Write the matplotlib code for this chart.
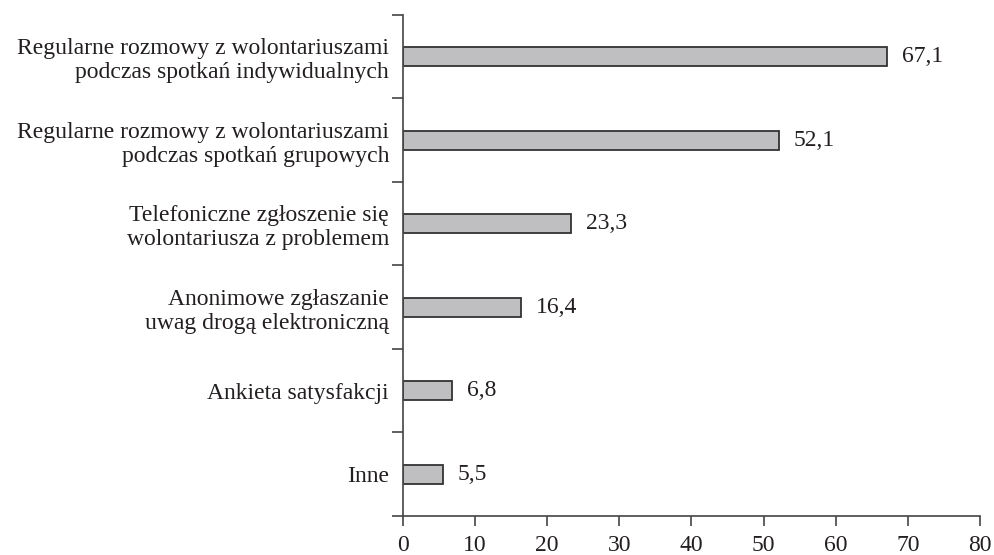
import numpy as np
import matplotlib
matplotlib.use("Agg")
import matplotlib.pyplot as plt

categories = [
    "Regularne rozmowy z wolontariuszami\npodczas spotkań indywidualnych",
    "Regularne rozmowy z wolontariuszami\npodczas spotkań grupowych",
    "Telefoniczne zgłoszenie się\nwolontariusza z problemem",
    "Anonimowe zgłaszanie\nuwag drogą elektroniczną",
    "Ankieta satysfakcji",
    "Inne",
]
values = [67.1, 52.1, 23.3, 16.4, 6.8, 5.5]
xticks = [0, 10, 20, 30, 40, 50, 60, 70, 80]

plt.rcParams['font.family'] = ['Liberation Serif', 'DejaVu Serif']
txt = '#231f20'
fs = 17

fig = plt.figure(figsize=(9.94, 5.55), dpi=100)
ax = fig.add_axes([0.4054, 0.0703, 0.5805, 0.9027])

n = len(categories)
ypos = np.arange(n)[::-1]
ax.barh(ypos, values, height=0.23, color='#bfbfc1', edgecolor='#333333', linewidth=1.3)

for y, v in zip(ypos, values):
    ax.text(v + 2.1, y, f"{v:.1f}".replace('.', ','), va='center', ha='left',
            fontsize=fs, color=txt)

ax.set_xlim(0, 80)
ax.set_ylim(-0.5, n - 0.5)
ax.set_xticks(xticks)
ax.set_xticklabels([str(t) for t in xticks], fontsize=fs, color=txt)

# category boundaries get the tick marks, labels sit between them
ax.set_yticks(np.arange(-0.5, n, 1.0))
ax.set_yticklabels([])
ax.set_yticks(ypos, minor=True)
ax.set_yticklabels(categories, minor=True, fontsize=fs, color=txt, ha='right',
                   linespacing=1.18)
ax.tick_params(axis='y', which='minor', length=0, pad=10)
ax.tick_params(axis='y', which='major', length=8, width=1.2, color='#444444', direction='out')
ax.tick_params(axis='x', length=7, width=1.2, color='#444444', direction='out', pad=7)

for s in ['top', 'right']:
    ax.spines[s].set_visible(False)
for s in ['left', 'bottom']:
    ax.spines[s].set_color('#444444')
    ax.spines[s].set_linewidth(1.2)

fig.savefig("out.png", dpi=100, facecolor='white')
